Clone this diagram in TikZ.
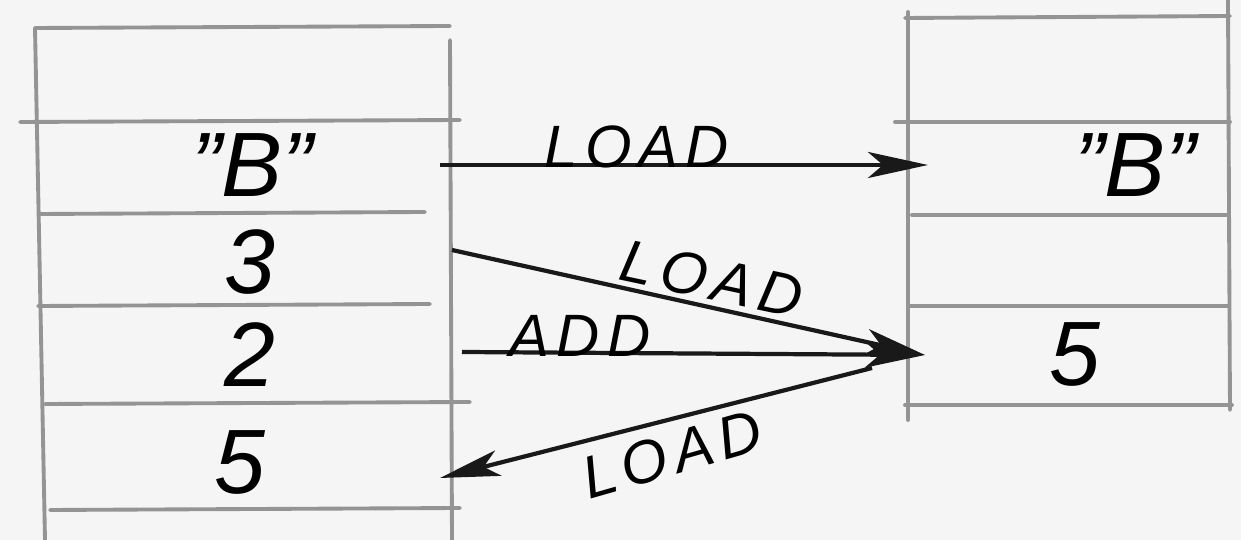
\documentclass[tikz,border=0pt]{standalone}
\usepackage{fontspec}
\setmainfont{Liberation Sans}
\usetikzlibrary{arrows.meta}
\begin{document}
\begin{tikzpicture}[x=0.01cm,y=-0.01cm,
  grid/.style={draw=black!42,line width=1.1pt,line cap=round},
  cell/.style={font=\fontsize{26}{26}\selectfont\itshape,inner sep=0pt},
  lbl/.style={font=\fontsize{17}{17}\selectfont\itshape\addfontfeature{LetterSpace=12},inner sep=1pt},
  arr/.style={draw=black!90,line width=1.2pt,-{Stealth[length=6mm,width=2.6mm,inset=1.5mm]}}]
\fill[black!4] (0,0) rectangle (1241,540);
\useasboundingbox (0,0) rectangle (1241,540);
% left memory column
\draw[grid] (35,28) -- (450,26);
\draw[grid] (20,122) -- (460,120);
\draw[grid] (40,214) -- (425,212);
\draw[grid] (38,306) -- (430,304);
\draw[grid] (45,404) -- (470,402);
\draw[grid] (50,510) -- (460,508);
\draw[grid] (35,28) -- (45,540);
\draw[grid] (450,40) -- (452,540);
% right memory column
\draw[grid] (905,18) -- (1230,16);
\draw[grid] (895,122) -- (1230,122);
\draw[grid] (912,215) -- (1228,215);
\draw[grid] (908,306) -- (1228,306);
\draw[grid] (905,405) -- (1232,405);
\draw[grid] (908,12) -- (908,420);
\draw[grid] (1228,0) -- (1230,410);
% cell contents
\node[cell] (lb) at (252,165) {"B"};
\node[cell] (l3) at (250,262) {3};
\node[cell] (l2) at (250,355) {2};
\node[cell] (l5) at (240,462) {5};
\node[cell] (rb) at (1135,165) {"B"};
\node[cell] (r5) at (1075,355) {5};
% arrow end points
\coordinate (s1) at (440,165);
\coordinate (e1) at (928,165);
\coordinate (s2) at (452,250);
\coordinate (e2) at (925,355);
\coordinate (s3) at (462,352);
\coordinate (s4) at (872,368);
\coordinate (e4) at (440,478);
% arrows
\draw[arr] (s1) -- (e1);
\draw[arr] (s2) -- (e2);
\draw[arr] (s3) -- (e2);
\draw[arr] (s4) -- (e4);
% labels
\node[lbl] (t1) at (637,147) {LOAD};
\node[lbl,rotate=-12] (t2) at (712,279) {LOAD};
\node[lbl] (t3) at (580,336) {ADD};
\node[lbl,rotate=16] (t4) at (672,454) {LOAD};
\end{tikzpicture}
\end{document}
